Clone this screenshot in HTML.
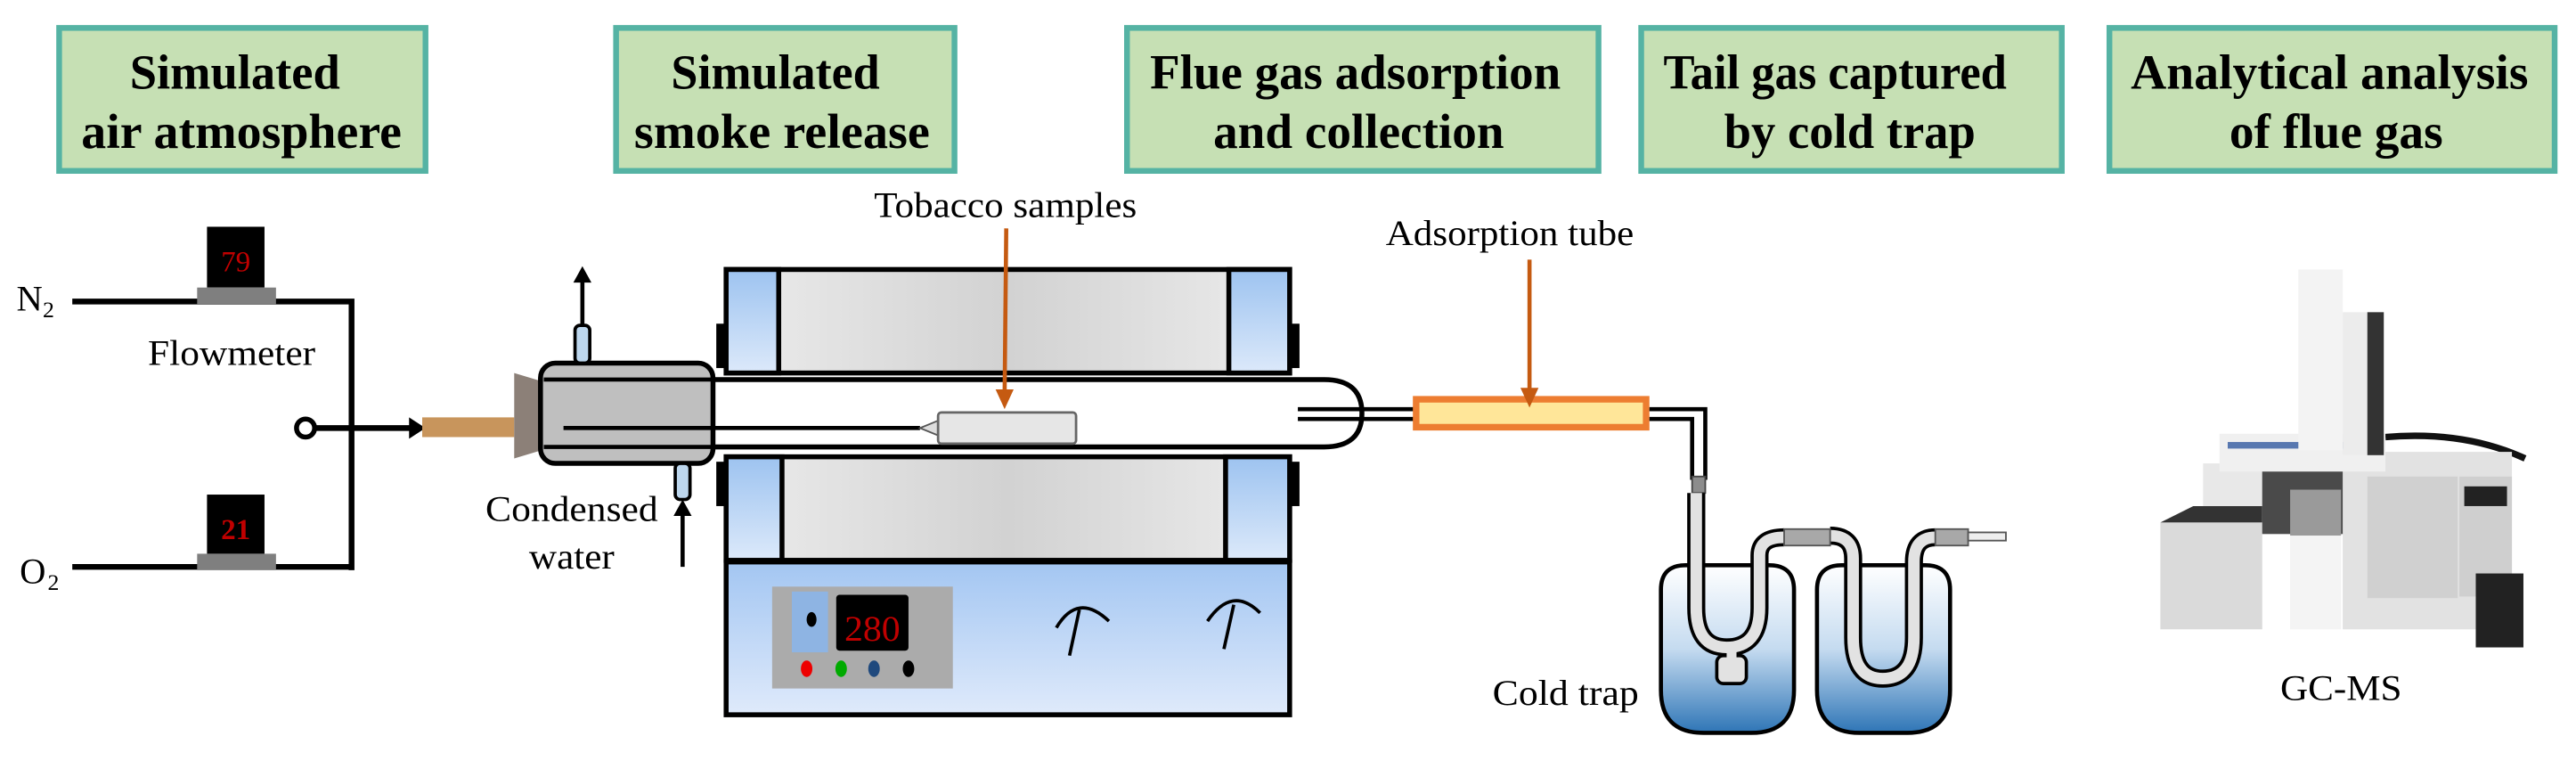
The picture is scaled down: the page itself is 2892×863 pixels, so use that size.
<!DOCTYPE html>
<html><head><meta charset="utf-8"><style>html,body{margin:0;padding:0;background:#fff}svg{display:block}text{font-family:"Liberation Serif","Times New Roman",serif}</style></head>
<body>
<svg width="2892" height="863" viewBox="0 0 1568 468" preserveAspectRatio="none" xmlns="http://www.w3.org/2000/svg">
<defs>
<linearGradient id="furn" x1="0" x2="1" y1="0" y2="0"><stop offset="0" stop-color="#ececec"/><stop offset="0.5" stop-color="#d2d2d2"/><stop offset="1" stop-color="#ececec"/></linearGradient>
<linearGradient id="cap" x1="0" x2="0" y1="0" y2="1"><stop offset="0" stop-color="#9dc3f0"/><stop offset="1" stop-color="#dce9fa"/></linearGradient>
<linearGradient id="ctrl" x1="0" x2="0" y1="0" y2="1"><stop offset="0" stop-color="#a3c6f2"/><stop offset="1" stop-color="#dfeafb"/></linearGradient>
<linearGradient id="water" x1="0" x2="0" y1="0" y2="1"><stop offset="0" stop-color="#ffffff"/><stop offset="0.5" stop-color="#c5dbf0"/><stop offset="1" stop-color="#2e75b6"/></linearGradient>
</defs>
<g>
<g fill="#c6e0b4" stroke="#55b3a4" stroke-width="3.5">
<rect x="36" y="17" width="223" height="87"/>
<rect x="375" y="17" width="206" height="87"/>
<rect x="686" y="17" width="287" height="87"/>
<rect x="999" y="17" width="256" height="87"/>
<rect x="1284" y="17" width="271" height="87"/>
</g>
<g font-weight="bold" font-size="30" text-anchor="middle" fill="#000">
<text x="143" y="54" textLength="128" lengthAdjust="spacingAndGlyphs">Simulated</text><text x="147" y="90" textLength="195" lengthAdjust="spacingAndGlyphs">air atmosphere</text>
<text x="472" y="54" textLength="127" lengthAdjust="spacingAndGlyphs">Simulated</text><text x="476" y="90" textLength="180" lengthAdjust="spacingAndGlyphs">smoke release</text>
<text x="825" y="54" textLength="250" lengthAdjust="spacingAndGlyphs">Flue gas adsorption</text><text x="827" y="90" textLength="177" lengthAdjust="spacingAndGlyphs">and collection</text>
<text x="1117" y="54" textLength="209" lengthAdjust="spacingAndGlyphs">Tail gas captured</text><text x="1126" y="90" textLength="153" lengthAdjust="spacingAndGlyphs">by cold trap</text>
<text x="1418" y="54" textLength="242" lengthAdjust="spacingAndGlyphs">Analytical analysis</text><text x="1422" y="90" textLength="130" lengthAdjust="spacingAndGlyphs">of flue gas</text>
</g>
<g stroke="#000" stroke-width="3.5" fill="none">
<path d="M44 183.5 H214 V347 M44 345 H214"/>
<path d="M192 260.5 H252"/>
</g>
<circle cx="186" cy="260.5" r="5.5" fill="#fff" stroke="#000" stroke-width="3"/>
<polygon points="249,254 259,260.5 249,267" fill="#000"/>
<text x="10" y="189" font-size="22">N</text><text x="26" y="193" font-size="14">2</text>
<text x="12" y="355" font-size="22">O</text><text x="29" y="359" font-size="14">2</text>
<rect x="126" y="138" width="35" height="37" fill="#000"/><rect x="120" y="175" width="48" height="10" fill="#7f7f7f"/>
<text x="143.5" y="165" font-size="18" fill="#c00000" text-anchor="middle">79</text>
<rect x="126" y="301" width="35" height="36" fill="#000"/><rect x="120" y="337" width="48" height="10" fill="#7f7f7f"/>
<text x="143.5" y="328" font-size="18" font-weight="bold" fill="#c00000" text-anchor="middle">21</text>
<text x="90" y="222" font-size="22" textLength="102" lengthAdjust="spacingAndGlyphs">Flowmeter</text>
<rect x="257" y="254" width="56" height="12" fill="#c8955c"/>
<polygon points="313,227 343,236 343,270 313,279" fill="#8c8078"/>
<rect x="436" y="197" width="6" height="27" fill="#000"/><rect x="785" y="197" width="6" height="27" fill="#000"/>
<rect x="442" y="164" width="343" height="63" fill="url(#furn)" stroke="#000" stroke-width="3"/>
<rect x="442" y="164" width="32" height="63" fill="url(#cap)" stroke="#000" stroke-width="3"/>
<rect x="748" y="164" width="37" height="63" fill="url(#cap)" stroke="#000" stroke-width="3"/>
<rect x="436" y="281" width="6" height="27" fill="#000"/><rect x="785" y="281" width="6" height="27" fill="#000"/>
<rect x="442" y="278" width="343" height="63" fill="url(#furn)" stroke="#000" stroke-width="3"/>
<rect x="442" y="278" width="34" height="63" fill="url(#cap)" stroke="#000" stroke-width="3"/>
<rect x="746" y="278" width="39" height="63" fill="url(#cap)" stroke="#000" stroke-width="3"/>
<rect x="442" y="342" width="343" height="93" fill="url(#ctrl)" stroke="#000" stroke-width="3"/>
<rect x="470" y="357" width="110" height="62" fill="#ababab"/>
<rect x="482" y="360" width="22" height="37" fill="#8eb4e3"/>
<ellipse cx="494" cy="377" rx="3" ry="4.5" fill="#000"/>
<rect x="509" y="362" width="44" height="34" fill="#000" rx="2"/>
<text x="531" y="390" font-size="22" fill="#c00000" text-anchor="middle" textLength="34" lengthAdjust="spacingAndGlyphs">280</text>
<ellipse cx="491" cy="407" rx="3.5" ry="5" fill="#e00"/><ellipse cx="512" cy="407" rx="3.5" ry="5" fill="#0a0"/><ellipse cx="532" cy="407" rx="3.5" ry="5" fill="#1f497d"/><ellipse cx="553" cy="407" rx="3.5" ry="5" fill="#000"/>
<g stroke="#000" stroke-width="2" fill="none">
<path d="M643 382 Q656 360 675 378"/><path d="M657 371 L651 399"/>
<path d="M735 378 Q750 356 767 373"/><path d="M751 368 L745 395"/>
</g>
<path d="M343 231 H806 Q829 231 829 251.5 Q829 272 806 272 H343" fill="#fff" stroke="#000" stroke-width="3"/>
<path d="M343 260.5 H560" stroke="#000" stroke-width="2.5"/>
<polygon points="560,260.5 571,256 571,265" fill="#ddd" stroke="#555" stroke-width="1"/>
<rect x="571" y="251" width="84" height="19" rx="2" fill="#e6e6e6" stroke="#666" stroke-width="1.5"/>
<path d="M790 249 H862 M790 255 H862" stroke="#000" stroke-width="2.5"/>
<rect x="329" y="221" width="105" height="61" rx="9" fill="#bfbfbf" stroke="#000" stroke-width="3"/>
<path d="M331 231 H434 M331 272 H434" stroke="#000" stroke-width="2.5"/>
<path d="M343 260.5 H434" stroke="#000" stroke-width="2.5"/>
<rect x="350" y="198" width="9" height="23" rx="3" fill="#bdd7ee" stroke="#000" stroke-width="2"/>
<rect x="411" y="282" width="9" height="22" rx="3" fill="#bdd7ee" stroke="#000" stroke-width="2"/>
<path d="M354.5 198 V170" stroke="#000" stroke-width="2.5"/><polygon points="349,172 354.5,162 360,172" fill="#000"/>
<path d="M415.5 345 V312" stroke="#000" stroke-width="2.5"/><polygon points="410,314 415.5,304 421,314" fill="#000"/>
<text x="348" y="317" font-size="22" text-anchor="middle" textLength="105" lengthAdjust="spacingAndGlyphs">Condensed</text>
<text x="348" y="346" font-size="22" text-anchor="middle" textLength="52" lengthAdjust="spacingAndGlyphs">water</text>
<text x="612" y="132" font-size="22" text-anchor="middle" textLength="160" lengthAdjust="spacingAndGlyphs">Tobacco samples</text>
<path d="M612.5 139 L611.5 240" stroke="#c55a11" stroke-width="2.5"/><polygon points="606,237 611.5,249 617,237" fill="#c55a11"/>
<rect x="862" y="243" width="140" height="17" fill="#ffe699" stroke="#ed7d31" stroke-width="4"/>
<text x="919" y="149" font-size="22" text-anchor="middle" textLength="151" lengthAdjust="spacingAndGlyphs">Adsorption tube</text>
<path d="M931 158 V240" stroke="#c55a11" stroke-width="2.5"/><polygon points="925.5,236 931,248 936.5,236" fill="#c55a11"/>
<path d="M1004 249 H1038 V292 M1004 255 H1030 V292" stroke="#000" stroke-width="2.5" fill="none"/>
<rect x="1030" y="290" width="8" height="10" fill="#8c8c8c" stroke="#444" stroke-width="1"/>
<path d="M1011 359 Q1011 344 1026 344 H1077 Q1092 344 1092 359 V420 Q1092 446 1066 446 H1037 Q1011 446 1011 420 Z" fill="url(#water)" stroke="#000" stroke-width="2.5"/>
<path d="M1106 359 Q1106 344 1121 344 H1172 Q1187 344 1187 359 V420 Q1187 446 1161 446 H1132 Q1106 446 1106 420 Z" fill="url(#water)" stroke="#000" stroke-width="2.5"/>
<g fill="none" stroke-linecap="butt">
<path d="M1032.5 300 V370 Q1032.5 394 1051 394 Q1071 394 1071 370 V338 Q1071 327 1086 327" stroke="#000" stroke-width="11"/>
<path d="M1032.5 300 V370 Q1032.5 394 1051 394 Q1071 394 1071 370 V338 Q1071 327 1086 327" stroke="#e2e2e2" stroke-width="7"/>
<path d="M1114 326 Q1128 326 1128 340 V388 Q1128 413 1146 413 Q1165 413 1165 388 V342 Q1165 327 1178 327" stroke="#000" stroke-width="11"/>
<path d="M1114 326 Q1128 326 1128 340 V388 Q1128 413 1146 413 Q1165 413 1165 388 V342 Q1165 327 1178 327" stroke="#e2e2e2" stroke-width="7"/>
</g>
<rect x="1045" y="399" width="18" height="17" rx="4" fill="#e2e2e2" stroke="#000" stroke-width="2"/>
<rect x="1051" y="393" width="6" height="8" fill="#e2e2e2"/>
<rect x="1086" y="322" width="28" height="10" fill="#a8a8a8" stroke="#555" stroke-width="1"/>
<rect x="1178" y="322" width="20" height="10" fill="#a8a8a8" stroke="#555" stroke-width="1"/>
<rect x="1198" y="324" width="23" height="5" fill="#eee" stroke="#555" stroke-width="1"/>
<text x="953" y="429" font-size="22" text-anchor="middle" textLength="89" lengthAdjust="spacingAndGlyphs">Cold trap</text>
<path d="M1452 266 Q1500 262 1537 279" stroke="#111" stroke-width="4" fill="none"/>
<rect x="1426" y="275" width="103" height="108" fill="#e2e2e2"/>
<rect x="1441" y="290" width="55" height="74" fill="#d0d0d0"/>
<rect x="1497" y="290" width="32" height="73" fill="#cfcfcf"/>
<rect x="1500" y="296" width="26" height="12" fill="#222"/>
<rect x="1341" y="282" width="40" height="32" fill="#e8e8e8"/>
<polygon points="1315,318 1335,308 1377,308 1377,318" fill="#333"/>
<rect x="1315" y="318" width="62" height="65" fill="#dadada"/>
<rect x="1377" y="281" width="49" height="44" fill="#4a4a4a"/>
<rect x="1394" y="298" width="31" height="28" fill="#9a9a9a"/>
<rect x="1394" y="326" width="31" height="57" fill="#f4f4f4"/>
<rect x="1351" y="264" width="101" height="23" fill="#f0f0f0"/>
<rect x="1356" y="269" width="80" height="4" fill="#5878b0"/>
<rect x="1399" y="164" width="27" height="110" fill="#f3f3f3"/>
<rect x="1426" y="190" width="25" height="87" fill="#ececec"/>
<rect x="1441" y="190" width="10" height="87" fill="#333"/>
<rect x="1507" y="349" width="29" height="45" fill="#222"/>
<text x="1425" y="426" font-size="22" text-anchor="middle" textLength="74" lengthAdjust="spacingAndGlyphs">GC-MS</text>
</g>
</svg>
</body></html>
